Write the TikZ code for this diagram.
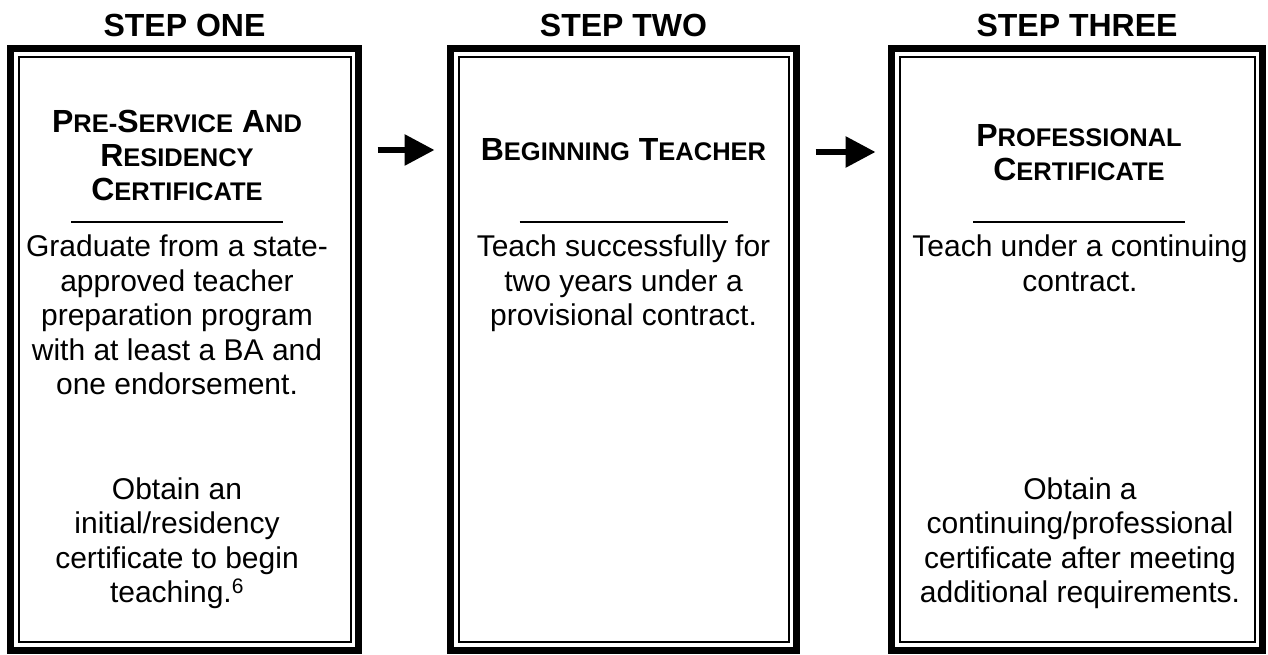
\documentclass[tikz,border=0pt]{standalone}
\usepackage{fontspec}
\setmainfont{Liberation Sans}
\usetikzlibrary{arrows.meta,positioning}

\tikzset{
  stepbox/.style={draw, rectangle, line width=7pt, outer sep=0pt, inner sep=0pt},
  innerline/.style={draw, line width=2pt},
  steplabel/.style={font=\fontsize{32}{36}\selectfont\bfseries},
  titletext/.style={align=center, inner sep=0pt, font=\fontsize{32}{34}\selectfont\bfseries},
  bodytext/.style={align=center, inner sep=0pt, font=\fontsize{30}{34.5}\selectfont},
  divider/.style={line width=2pt},
  flowarrow/.style={line width=6pt, -{Triangle[length=30pt,width=30pt]},
    shorten <=19pt, shorten >=16pt},
}
\newcommand\capsm[2]{#1{\fontsize{25.5}{34}\selectfont #2}}

\begin{document}
\begin{tikzpicture}[x=1pt,y=1pt]
  \useasboundingbox (0,0) rectangle (1268,654);

  % the three steps
  \node[stepbox, minimum width=348pt, minimum height=601pt] (box1) at (184.5,304.5) {};
  \node[stepbox, minimum width=346pt, minimum height=601pt] (box2) at (623.5,304.5) {};
  \node[stepbox, minimum width=371pt, minimum height=601pt] (box3) at (1077,304.5) {};
  \foreach \b in {box1,box2,box3}
    \draw[innerline] ([shift={(8,-8)}]\b.north west) rectangle ([shift={(-8,8)}]\b.south east);

  \node[steplabel] (head1) at (184.5,629) {STEP ONE};
  \node[steplabel] (head2) at (623.5,629) {STEP TWO};
  \node[steplabel] (head3) at (1077,629) {STEP THREE};

  % titles
  \node[titletext] (title1) at (177,499)
    {\capsm{P}{RE-}\capsm{S}{ERVICE} \capsm{A}{ND}\\\capsm{R}{ESIDENCY}\\\capsm{C}{ERTIFICATE}};
  \node[titletext] (title2) at (623.5,504) {\capsm{B}{EGINNING} \capsm{T}{EACHER}};
  \node[titletext] (title3) at (1079,501) {\capsm{P}{ROFESSIONAL}\\\capsm{C}{ERTIFICATE}};

  \draw[divider] (title1 |- 0,432) +(-106,0) -- +(106,0);
  \draw[divider] (title2 |- 0,432) +(-104,0) -- +(104,0);
  \draw[divider] (title3 |- 0,432) +(-106,0) -- +(106,0);

  % text
  \node[bodytext, anchor=north] (body1) at (177,419)
    {Graduate from a state-\\approved teacher\\preparation program\\with at least a BA and\\one endorsement.};
  \node[bodytext, anchor=north] (body2) at (623.5,419)
    {Teach successfully for\\two years under a\\provisional contract.};
  \node[bodytext, anchor=north] (body3) at (1080,419)
    {Teach under a continuing\\contract.};
  \node[bodytext, anchor=south] (extra1) at (177,45)
    {Obtain an\\initial/residency\\certificate to begin\\teaching.\textsuperscript{6}};
  \node[bodytext, anchor=south] (extra3) at (1080,45)
    {Obtain a\\continuing/professional\\certificate after meeting\\additional requirements.};

  % arrows
  \draw[flowarrow] (box1.east |- 0,504) -- (box2.west |- 0,504);
  \draw[flowarrow] (box2.east |- 0,502) -- (box3.west |- 0,502);
\end{tikzpicture}
\end{document}
